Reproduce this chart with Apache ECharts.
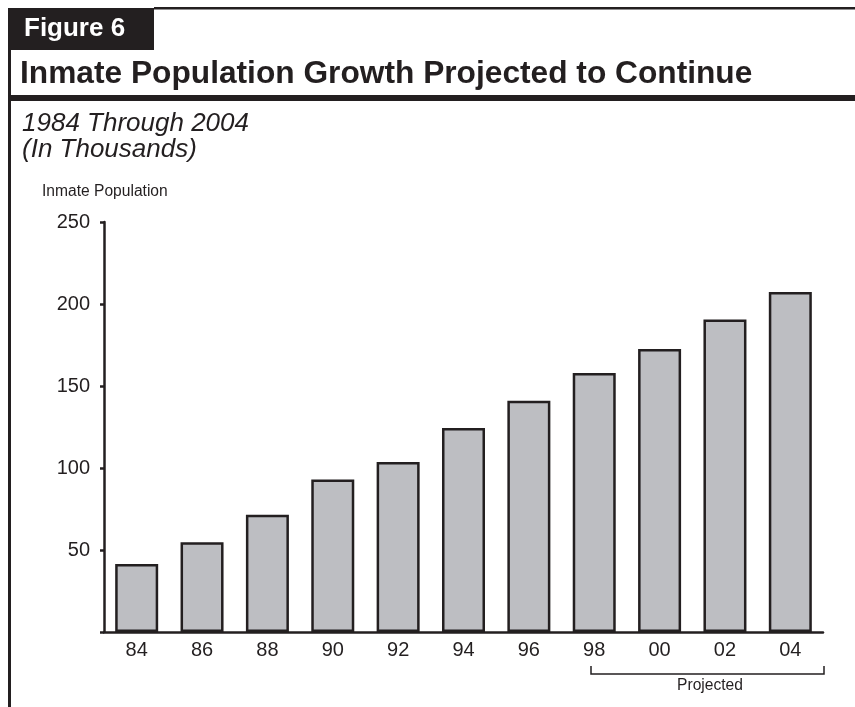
<!DOCTYPE html>
<html>
<head>
<meta charset="utf-8">
<script src="https://cdn.jsdelivr.net/npm/echarts@6/dist/echarts.min.js"></script>
<style>
  html, body { margin: 0; padding: 0; background: #fff; }
  #main { width: 855px; height: 707px; }
</style>
</head>
<body>
<div id="main"></div>
<script>
var years = ['84', '86', '88', '90', '92', '94', '96', '98', '00', '02', '04'];
var inmates = [41.5, 54.7, 71.5, 93, 103.7, 124.4, 141, 158, 172.6, 190.5, 207.3];
var yTicks = [0, 50, 100, 150, 200, 250];

var ink = '#231f20';
var font = '"Liberation Sans", Arial, sans-serif';

var myChart = echarts.init(document.getElementById('main'));

var option = {
  backgroundColor: '#fff',
  animation: false,
  grid: {
    left: 104,
    right: 32,
    top: 222,
    bottom: 75
  },
  xAxis: {
    type: 'category',
    data: years,
    axisLine: { lineStyle: { color: ink, width: 2.5 } },
    axisTick: { show: false },
    axisLabel: { color: ink, fontSize: 20, fontFamily: font, margin: 8 }
  },
  yAxis: {
    type: 'value',
    min: yTicks[0],
    max: yTicks[yTicks.length - 1],
    interval: 50,
    splitLine: { show: false },
    axisLine: { show: true, lineStyle: { color: ink, width: 2.5 } },
    axisTick: { show: true, length: 4, lineStyle: { color: ink, width: 2.5 } },
    axisLabel: {
      color: ink, fontSize: 20, fontFamily: font, margin: 14,
      formatter: function (v) { return v === 0 ? '' : String(v); }
    }
  },
  series: [
    {
      name: 'Inmate Population',
      type: 'bar',
      data: inmates,
      barWidth: 43,
      itemStyle: { color: '#bdbec2', borderColor: ink, borderWidth: 2.5 }
    }
  ],
  graphic: [
    // frame
    { type: 'rect', shape: { x: 8, y: 8, width: 146, height: 42 }, style: { fill: ink } },
    { type: 'rect', shape: { x: 154, y: 7, width: 701, height: 2.5 }, style: { fill: ink } },
    { type: 'rect', shape: { x: 8, y: 8, width: 3, height: 699 }, style: { fill: ink } },
    { type: 'rect', shape: { x: 8, y: 95, width: 847, height: 6 }, style: { fill: ink } },
    // heading texts
    { type: 'text', x: 24, y: 29, style: { text: 'Figure 6', fill: '#fff', font: 'bold 26px ' + font, verticalAlign: 'middle' } },
    { type: 'text', x: 20, y: 74, style: { text: 'Inmate Population Growth Projected to Continue', fill: ink, font: 'bold 31.7px ' + font, verticalAlign: 'middle' } },
    { type: 'text', x: 22, y: 124, style: { text: '1984 Through 2004', fill: ink, font: 'italic 26px ' + font, verticalAlign: 'middle' } },
    { type: 'text', x: 22, y: 150, style: { text: '(In Thousands)', fill: ink, font: 'italic 26px ' + font, verticalAlign: 'middle' } },
    { type: 'text', x: 42, y: 192, style: { text: 'Inmate Population', fill: ink, font: '15.6px ' + font, verticalAlign: 'middle' } },
    // projected bracket
    {
      type: 'polyline',
      shape: { points: [[591, 666], [591, 674], [824, 674], [824, 666]] },
      style: { stroke: ink, lineWidth: 1.5, fill: null }
    },
    { type: 'text', x: 710, y: 686, style: { text: 'Projected', fill: ink, font: '15.6px ' + font, align: 'center', verticalAlign: 'middle' } }
  ]
};

myChart.setOption(option);
</script>
</body>
</html>
